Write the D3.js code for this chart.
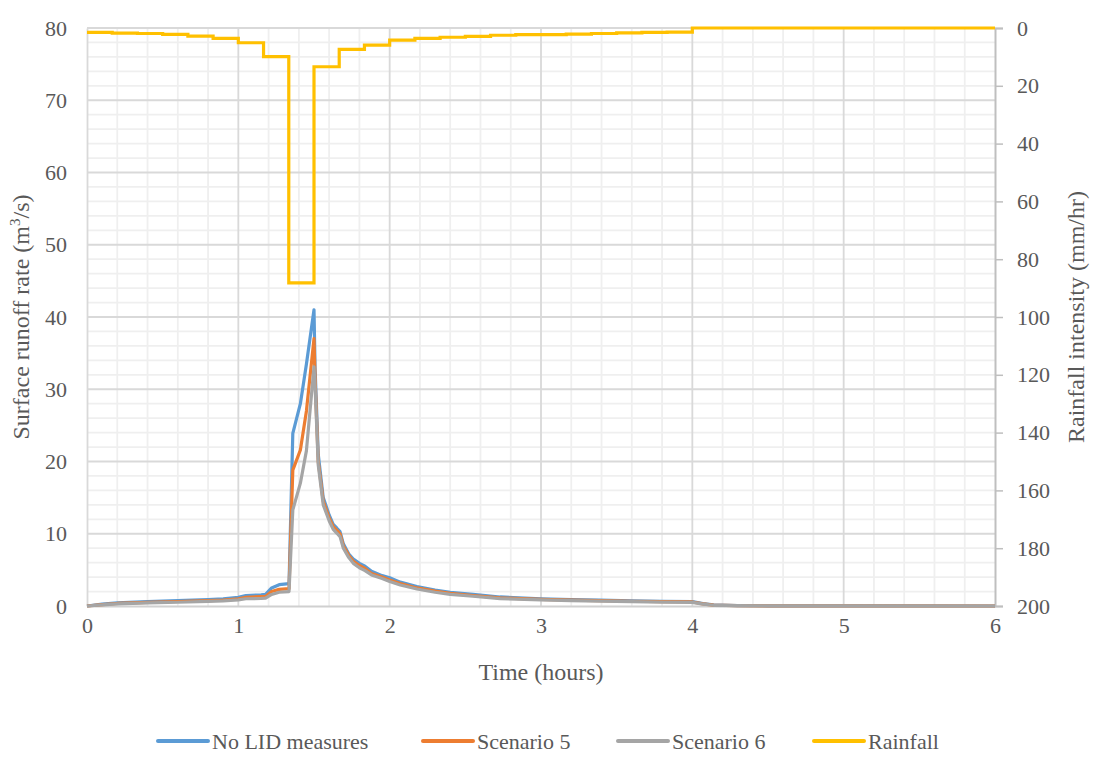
<!DOCTYPE html>
<html>
<head>
<meta charset="utf-8">
<script src="https://cdnjs.cloudflare.com/ajax/libs/d3/7.8.5/d3.min.js"></script>
</head>
<body style="margin:0; background:#fff">
<svg id="drawing_region"></svg>
<script>
// runoff series (time in hours, m3/s)
const time_hours = [0, 0.1, 0.2, 0.4, 0.6, 0.8, 0.9, 1.0, 1.05, 1.15, 1.18, 1.22, 1.27, 1.335, 1.36, 1.41, 1.45, 1.5,
    1.507, 1.528, 1.561, 1.6, 1.627, 1.65, 1.672, 1.694, 1.73, 1.76, 1.8, 1.837, 1.88, 1.95, 2.0, 2.07, 2.18, 2.3,
    2.4, 2.55, 2.73, 3.0, 3.2, 3.39, 3.6, 3.8, 4.0, 4.07, 4.14, 4.3, 4.5, 5.0, 6.0];
const no_lid = [0, 0.25, 0.45, 0.6, 0.75, 0.9, 1.0, 1.2, 1.45, 1.55, 1.6, 2.5, 2.95, 3.1, 23.9, 28.0, 33.5, 41.0,
    33.0, 21.0, 15.0, 12.6, 11.3, 10.8, 10.3, 8.6, 7.2, 6.5, 5.9, 5.5, 4.8, 4.2, 3.9, 3.3, 2.7, 2.2,
    1.9, 1.6, 1.25, 1.0, 0.88, 0.8, 0.72, 0.66, 0.62, 0.35, 0.15, 0.06, 0.03, 0.01, 0];
const scenario5 = [0, 0.2, 0.35, 0.5, 0.62, 0.75, 0.82, 1.0, 1.2, 1.3, 1.32, 2.0, 2.3, 2.4, 18.8, 21.6, 27.0, 37.0,
    31.5, 20.0, 14.5, 12.2, 11.0, 10.5, 10.0, 8.3, 7.0, 6.2, 5.6, 5.2, 4.5, 4.0, 3.6, 3.1, 2.5, 2.05,
    1.75, 1.45, 1.12, 0.92, 0.82, 0.74, 0.66, 0.6, 0.56, 0.3, 0.12, 0.05, 0.02, 0.01, 0];
const scenario6 = [0, 0.15, 0.3, 0.42, 0.52, 0.65, 0.72, 0.85, 1.0, 1.05, 1.08, 1.6, 1.9, 2.0, 13.3, 17.0, 21.5, 33.1,
    30.5, 19.5, 14.0, 11.8, 10.6, 10.1, 9.6, 8.0, 6.7, 5.9, 5.3, 4.9, 4.3, 3.8, 3.4, 2.9, 2.35, 1.9,
    1.6, 1.35, 1.02, 0.85, 0.75, 0.68, 0.6, 0.55, 0.5, 0.27, 0.1, 0.04, 0.02, 0.01, 0];

// rainfall, 10 minute steps (mm/hr)
const rain_time = [0, 1/6, 2/6, 3/6, 4/6, 5/6, 1, 7/6, 8/6, 9/6, 10/6, 11/6, 2, 13/6, 14/6, 15/6, 16/6, 17/6,
    3, 19/6, 20/6, 21/6, 22/6, 23/6, 4, 6];
const rain_intensity = [1.5, 1.8, 1.9, 2.2, 2.8, 3.6, 5.1, 9.9, 88.2, 13.4, 7.4, 5.9, 4.2, 3.6, 3.2, 2.9, 2.5, 2.3,
    2.3, 2.1, 1.9, 1.7, 1.5, 1.4, 0, 0];

const x_ticks = [0, 1, 2, 3, 4, 5, 6];
const left_ticks = [0, 10, 20, 30, 40, 50, 60, 70, 80];
const right_ticks = [0, 20, 40, 60, 80, 100, 120, 140, 160, 180, 200];
const series_names = ['No LID measures', 'Scenario 5', 'Scenario 6', 'Rainfall'];
const series_colors = ['#5b9bd5', '#ed7d31', '#a5a5a5', '#ffc000'];

const font_name = 'Liberation Serif';
const serif = `"${font_name}"`;

const config = {
    width: 1094,
    height: 761,
    margin: {top: 28, right: 99, bottom: 155, left: 87}
};

const svg = d3.select('#drawing_region')
    .attr('width', config.width)
    .attr('height', config.height);

const inner_width = config.width - config.margin.left - config.margin.right;
const inner_height = config.height - config.margin.top - config.margin.bottom;

const chart = svg.append('g')
    .attr('transform', `translate(${config.margin.left}, ${config.margin.top})`);

const xscale = d3.scaleLinear().domain([0, 6]).range([0, inner_width]);
const yscale = d3.scaleLinear().domain([0, 80]).range([inner_height, 0]);
const rscale = d3.scaleLinear().domain([0, 200]).range([0, inner_height]);

// minor grid
const minor_x = d3.range(1, 30).map(i => i * 0.2).filter(v => Math.abs(v - Math.round(v)) > 1e-6);
const minor_y = d3.range(1, 40).map(i => i * 2).filter(v => v % 10 !== 0);

chart.append('g').selectAll('line')
    .data(minor_x).join('line')
    .attr('x1', d => xscale(d)).attr('x2', d => xscale(d))
    .attr('y1', 0).attr('y2', inner_height)
    .attr('stroke', '#efefef').attr('stroke-width', 1.8);

chart.append('g').selectAll('line')
    .data(minor_y).join('line')
    .attr('x1', 0).attr('x2', inner_width)
    .attr('y1', d => yscale(d)).attr('y2', d => yscale(d))
    .attr('stroke', '#efefef').attr('stroke-width', 1.8);

// major grid
chart.append('g').selectAll('line')
    .data(x_ticks.slice(1, -1)).join('line')
    .attr('x1', d => xscale(d)).attr('x2', d => xscale(d))
    .attr('y1', 0).attr('y2', inner_height)
    .attr('stroke', '#d9d9d9').attr('stroke-width', 1.8);

chart.append('g').selectAll('line')
    .data(left_ticks.slice(1)).join('line')
    .attr('x1', 0).attr('x2', inner_width)
    .attr('y1', d => yscale(d)).attr('y2', d => yscale(d))
    .attr('stroke', '#d9d9d9').attr('stroke-width', 1.8);

// axes
const xaxis = d3.axisBottom(xscale).tickValues(x_ticks).tickFormat(d3.format('d'))
    .tickSize(0).tickPadding(20);
const yaxis = d3.axisLeft(yscale).tickValues(left_ticks).tickFormat(d3.format('d'))
    .tickSize(0).tickPadding(20);
const raxis = d3.axisRight(rscale).tickValues(right_ticks).tickFormat(d3.format('d'))
    .tickSize(8).tickPadding(14);

const xaxis_group = chart.append('g')
    .attr('transform', `translate(0, ${inner_height})`)
    .call(xaxis);
const yaxis_group = chart.append('g').call(yaxis);
const raxis_group = chart.append('g')
    .attr('transform', `translate(${inner_width}, 0)`)
    .call(raxis);

[xaxis_group, yaxis_group, raxis_group].forEach(g => {
    g.attr('font-family', serif).attr('font-size', 22);
    g.selectAll('text')
        .style('font-family', serif, 'important')
        .attr('fill', '#595959');
});
xaxis_group.select('.domain').attr('stroke', '#d0d0d0').attr('stroke-width', 2);
yaxis_group.select('.domain').attr('stroke', '#d9d9d9').attr('stroke-width', 1.8);
raxis_group.select('.domain').attr('stroke', '#bfbfbf').attr('stroke-width', 2);
raxis_group.selectAll('.tick line').attr('stroke', '#bfbfbf').attr('stroke-width', 1.5);
xaxis_group.selectAll('.tick text').attr('dy', '0.32em');

// runoff lines
const runoff = [no_lid, scenario5, scenario6];
const line = d3.line()
    .x((d, i) => xscale(time_hours[i]))
    .y(d => yscale(d));

runoff.forEach((s, k) => {
    chart.append('path')
        .attr('d', line(s))
        .attr('fill', 'none')
        .attr('stroke', series_colors[k])
        .attr('stroke-width', 3.2)
        .attr('stroke-linejoin', 'round');
});

// rainfall line
const rain_line = d3.line()
    .x((d, i) => xscale(rain_time[i]))
    .y(d => rscale(d))
    .curve(d3.curveStepAfter);

chart.append('path')
    .attr('d', rain_line(rain_intensity))
    .attr('fill', 'none')
    .attr('stroke', series_colors[3])
    .attr('stroke-width', 3.2);

// axis titles
function title_text(sel, size) {
    return sel.attr('font-size', size).style('font-family', serif, 'important').attr('fill', '#595959');
}

title_text(svg.append('text'), 24)
    .attr('x', config.margin.left + inner_width / 2)
    .attr('y', 680)
    .attr('text-anchor', 'middle')
    .text('Time (hours)');

const ltitle = title_text(svg.append('text'), 24)
    .attr('transform', `translate(29, ${config.margin.top + inner_height / 2}) rotate(-90)`)
    .attr('text-anchor', 'middle');
ltitle.append('tspan').text('Surface runoff rate (m');
ltitle.append('tspan').attr('font-size', 15).attr('dy', -9).text('3');
ltitle.append('tspan').attr('dy', 9).text('/s)');

title_text(svg.append('text'), 24)
    .attr('transform', `translate(1084, ${config.margin.top + inner_height / 2}) rotate(-90)`)
    .attr('text-anchor', 'middle')
    .text('Rainfall intensity (mm/hr)');

// legend
const legend_x = [158, 423, 618, 814];
const legend = svg.append('g').attr('transform', 'translate(0, 741)');
series_names.forEach((name, k) => {
    legend.append('line')
        .attr('x1', legend_x[k]).attr('x2', legend_x[k] + 50)
        .attr('y1', 0).attr('y2', 0)
        .attr('stroke', series_colors[k])
        .attr('stroke-width', 4)
        .attr('stroke-linecap', 'round');
    title_text(legend.append('text'), 22)
        .attr('x', legend_x[k] + 54)
        .attr('y', 0)
        .attr('dy', '0.35em')
        .text(name);
});
</script>
</body>
</html>
